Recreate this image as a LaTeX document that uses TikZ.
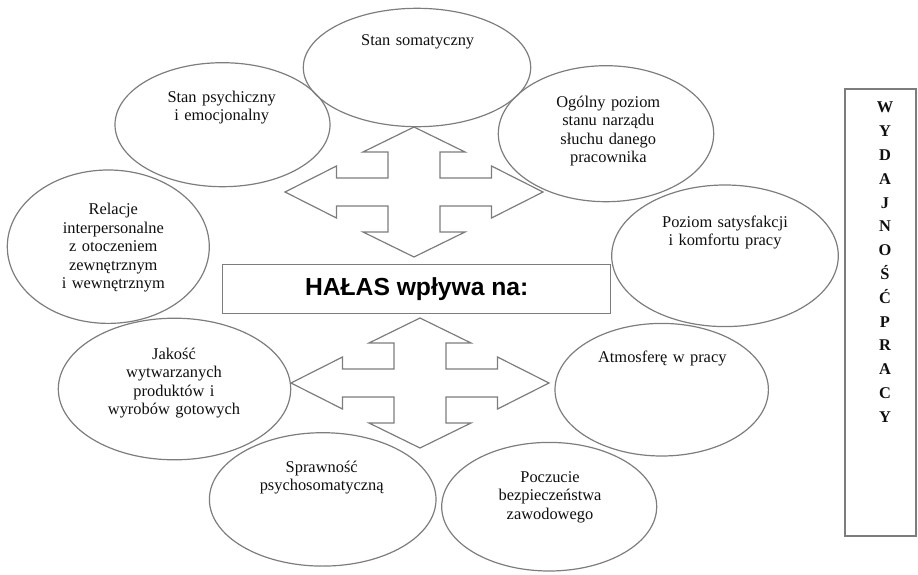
\documentclass[tikz,border=0pt]{standalone}
\usepackage{fontspec}
\setmainfont{Liberation Serif}
\newfontfamily\headfont{Liberation Sans}
\usetikzlibrary{shapes.geometric}

\definecolor{edgegray}{RGB}{125,125,125}
\definecolor{inkblack}{RGB}{15,15,15}

% four-headed block arrow centred at the given coordinate
\newcommand\quadblockarrow[1]{%
  \begin{scope}[shift={(#1)}]
    \draw[blockline]
      (0,-65) -- (51,-40) -- (26,-40) -- (26,-14) -- (77.5,-14) -- (77.5,-26)
      -- (129,0) -- (77.5,26) -- (77.5,14) -- (26,14) -- (26,40) -- (51,40)
      -- (0,65) -- (-51,40) -- (-26,40) -- (-26,14) -- (-77.5,14) -- (-77.5,26)
      -- (-129,0) -- (-77.5,-26) -- (-77.5,-14) -- (-26,-14) -- (-26,-40)
      -- (-51,-40) -- cycle;
  \end{scope}}

\tikzset{
  oval/.style 2 args={ellipse, draw=edgegray, line width=0.9pt, inner sep=0pt,
    minimum width={1.5pt*#1}, minimum height={1.5pt*#2}},
  blockline/.style={draw=edgegray, line width=0.9pt, line join=miter},
  txt/.style={font=\fontsize{12.3}{13.95}\selectfont, text=inkblack,
    text width=160pt, align=center, inner sep=0pt, anchor=base},
  framebox/.style={draw=edgegray, line width=0.9pt, inner sep=0pt},
}

\begin{document}
\begin{tikzpicture}[x=0.75pt,y=-0.75pt]
\useasboundingbox (0,0) rectangle (918,575);

% ellipses
\node[oval={113.7}{59.2}] (som)  at (417,67.5) {};
\node[oval={107.5}{62}]   (psy)  at (222.5,124.7) {};
\node[oval={107.7}{68}]   (ogol) at (606,133.7) {};
\node[oval={101}{76.7}]   (rel)  at (108.3,246.7) {};
\node[oval={113.3}{70.8}] (poz)  at (725,255.8) {};
\node[oval={116.2}{70.8}] (jak)  at (174.5,389) {};
\node[oval={106.7}{66.3}] (atm)  at (661.7,389.7) {};
\node[oval={113.3}{66.7}] (spr)  at (322.7,499.4) {};
\node[oval={107.5}{64.3}] (pocz) at (549.2,506.7) {};

% ellipse texts
\node[txt] (somT)  at (417.7,45.4) {Stan somatyczny};
\node[txt] (psyT)  at (221.7,102) {Stan psychiczny\\i emocjonalny};
\node[txt] (ogolT) at (608.3,107) {Ogólny poziom\\stanu narządu\\słuchu danego\\pracownika};
\node[txt] (relT)  at (113.3,214.5) {Relacje\\interpersonalne\\z otoczeniem\\zewnętrznym\\i wewnętrznym};
\node[txt] (pozT)  at (725,227) {Poziom satysfakcji\\i komfortu pracy};
\node[txt] (jakT)  at (174,359) {Jakość\\wytwarzanych\\produktów i\\wyrobów gotowych};
\node[txt] (atmT)  at (662.3,362) {Atmosferę w pracy};
\node[txt] (sprT)  at (321.7,472) {Sprawność\\psychosomatyczną};
\node[txt] (poczT) at (550,482) {Poczucie\\bezpieczeństwa\\zawodowego};

% central box
\node[framebox, minimum width=291.3pt, minimum height=36.75pt] (title) at (416.5,288.8) {};
\node[anchor=base, inner sep=0pt, text=black,
      font=\headfont\bfseries\fontsize{18.5}{22}\selectfont] (titleT) at (416.7,295)
  {HAŁAS wpływa na:};

% block arrows above and below the box
\coordinate (upperhub) at (414,192);
\coordinate (lowerhub) at (420,383);
\quadblockarrow{upperhub}
\quadblockarrow{lowerhub}

% side column
\node[framebox, minimum width=53.25pt, minimum height=335.25pt] (side) at (880.5,312.5) {};
\node[anchor=base, inner sep=0pt, text width=20pt, align=center, text=inkblack,
      font=\bfseries\fontsize{12.3}{17.85}\selectfont] (sideT) at (885,112.8)
  {W\\Y\\D\\A\\J\\N\\O\\Ś\\Ć\\P\\R\\A\\C\\Y};
\end{tikzpicture}
\end{document}
